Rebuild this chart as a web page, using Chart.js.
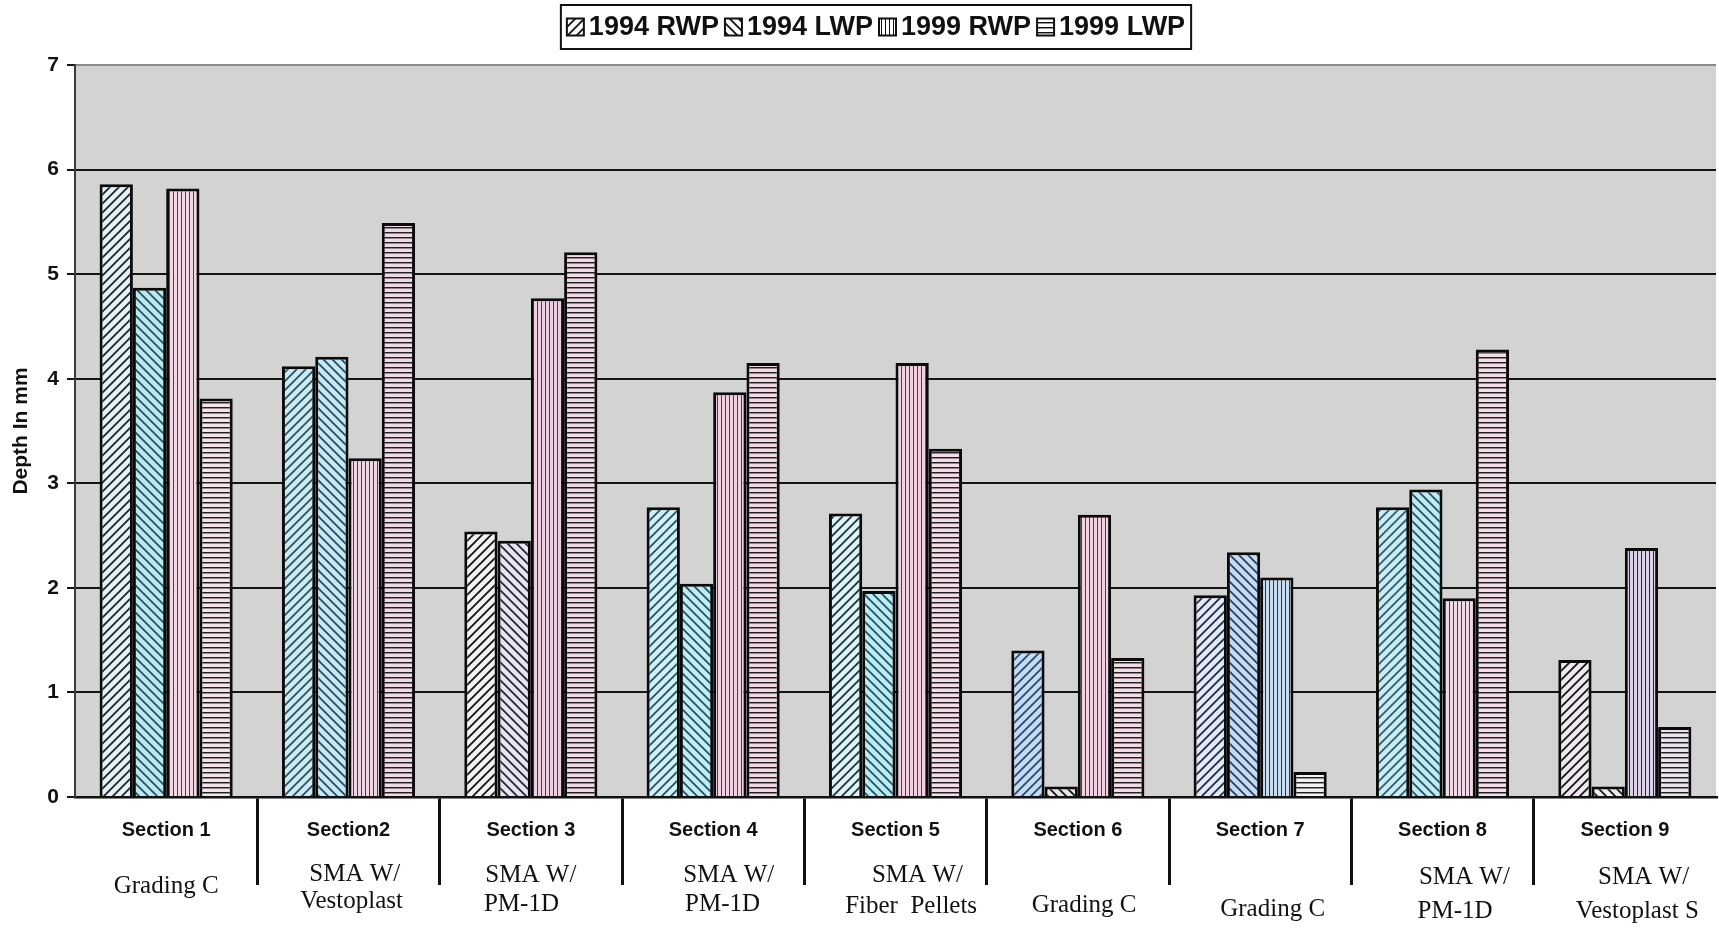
<!DOCTYPE html>
<html>
<head>
<meta charset="utf-8">
<title>Rut depth by section</title>
<script src="https://cdn.jsdelivr.net/npm/chart.js@4.4.1/dist/chart.umd.min.js"></script>
<style>
  html, body { margin: 0; padding: 0; background: #fff; }
  #wrap { width: 1719px; height: 928px; }
</style>
</head>
<body>
<div id="wrap"><canvas id="chart" width="1719" height="928"></canvas></div>
<script>
// Rut depth (mm) per test section, right and left wheel paths, 1994 and 1999 surveys
const sections = ['Section 1', 'Section2', 'Section 3', 'Section 4', 'Section 5',
                  'Section 6', 'Section 7', 'Section 8', 'Section 9'];
const mixes = [
  ['Grading C'],
  ['  SMA W/', ' Vestoplast'],
  ['SMA W/', 'PM-1D   '],
  ['     SMA W/', '   PM-1D'],
  ['       SMA W/', '     Fiber  Pellets'],
  ['', '  Grading C'],
  ['', '    Grading C'],
  ['       SMA W/', '    PM-1D'],
  ['      SMA W/', '    Vestoplast S']
];
const seriesNames = ['1994 RWP', '1994 LWP', '1999 RWP', '1999 LWP'];
const rwp1994 = [5.86, 4.12, 2.54, 2.77, 2.71, 1.40, 1.93, 2.77, 1.31];
const lwp1994 = [4.87, 4.21, 2.45, 2.04, 1.97, 0.10, 2.34, 2.94, 0.10];
const rwp1999 = [5.82, 3.24, 4.77, 3.87, 4.15, 2.70, 2.10, 1.90, 2.38];
const lwp1999 = [3.81, 5.49, 5.21, 4.15, 3.33, 1.33, 0.24, 4.28, 0.67];
const yTicks = [0, 1, 2, 3, 4, 5, 6, 7];

// ---- styling ----
const sans = '"Liberation Sans", Arial, Helvetica, sans-serif';
const serif = '"Liberation Serif", "Times New Roman", serif';
const hatchKinds = ['fwd', 'back', 'vert', 'horiz'];
const barTints = [
  ['#e6f3f5', '#cfe9f0', '#f3f3f5', '#d3f0f3', '#dff3f5', '#c5dcee', '#e2e9f4', '#cdecf1', '#f0e8f0'],
  ['#bde9ee', '#c9e7f0', '#e7e3ef', '#c2ecf1', '#bcebf0', '#e6e6ea', '#c9dcef', '#c3eaf0', '#eeeeee'],
  ['#f2d7e4', '#efd6e5', '#ecd0e2', '#f1d2e2', '#f1d0e1', '#f1d1e2', '#c9dcf0', '#f1dbe8', '#ddd3e8'],
  ['#f5e3ec', '#f0d9e6', '#f1dae7', '#f3d9e6', '#f3dbe7', '#f3dbe7', '#f2f2f2', '#f3dde8', '#ebe4ef']
];
const barInks = [
  ['#1c2430', '#245466', '#141414', '#1f5566', '#1b3442', '#284878', '#1f2c48', '#256074', '#141414'],
  ['#1d5668', '#1f4f66', '#2a2436', '#1d5668', '#1d5668', '#141414', '#27406a', '#1d5668', '#141414'],
  ['#6b2d4d', '#6b2d4d', '#6b2d4d', '#6b2d4d', '#6b2d4d', '#6b2d4d', '#203a5a', '#6b2d4d', '#2a2236'],
  ['#202020', '#202020', '#202020', '#202020', '#202020', '#202020', '#202020', '#202020', '#202020']
];
// line heights of the mix-description labels, one per section
const mixLineHeights = [51, 27, 29, 29, 30.7, 30, 32.3, 33.7, 33.7];

function hatchPattern(kind, tint, ink) {
  const size = kind === 'vert' ? 4 : kind === 'horiz' ? 5 : 9;
  const tile = document.createElement('canvas');
  tile.width = size; tile.height = size;
  const g = tile.getContext('2d');
  g.fillStyle = tint; g.fillRect(0, 0, size, size);
  g.strokeStyle = ink; g.fillStyle = ink;
  if (kind === 'fwd' || kind === 'back') {
    g.lineWidth = 1.8;
    g.beginPath();
    if (kind === 'fwd') {
      g.moveTo(0, size); g.lineTo(size, 0);
      g.moveTo(-2, 2); g.lineTo(2, -2);
      g.moveTo(size - 2, size + 2); g.lineTo(size + 2, size - 2);
    } else {
      g.moveTo(0, 0); g.lineTo(size, size);
      g.moveTo(size - 2, -2); g.lineTo(size + 2, 2);
      g.moveTo(-2, size - 2); g.lineTo(2, size + 2);
    }
    g.stroke();
  } else if (kind === 'vert') {
    g.fillRect(1, 0, 1, size);
  } else {
    g.fillRect(0, 2, size, 1);
    g.globalAlpha = 0.45; g.fillRect(0, 3, size, 1);
  }
  return g.createPattern(tile, 'repeat');
}

const series = [rwp1994, lwp1994, rwp1999, lwp1999];
const datasets = series.map((vals, k) => ({
  label: seriesNames[k],
  data: vals,
  backgroundColor: vals.map((_, i) => hatchPattern(hatchKinds[k], barTints[k][i], barInks[k][i])),
  borderColor: '#0a0a0a',
  borderWidth: 3,
  borderSkipped: 'start'
}));
const legendSwatches = hatchKinds.map(kind => hatchPattern(kind, '#ffffff', '#111111'));

// grey plotting field
const plotField = {
  id: 'plotField',
  beforeDraw(chart) {
    const a = chart.chartArea, ctx = chart.ctx;
    ctx.save();
    ctx.fillStyle = '#d3d3d4';
    ctx.fillRect(a.left, a.top, a.right - a.left, a.bottom - a.top);
    ctx.restore();
  }
};

// boxed legend across the top
const boxedLegend = {
  id: 'boxedLegend',
  afterDraw(chart) {
    const ctx = chart.ctx;
    ctx.save();
    ctx.font = 'bold 27px ' + sans;
    const sw = 17, gapIn = 5, gapOut = 6, pad = 6;
    const widths = chart.data.datasets.map(ds => ctx.measureText(ds.label).width);
    const total = widths.reduce((s, w) => s + sw + gapIn + w, 0) + gapOut * (widths.length - 1) + pad * 2;
    const cx = 876, top = 5, h = 44;
    const left = cx - total / 2;
    ctx.fillStyle = '#fff';
    ctx.fillRect(left, top, total, h);
    ctx.lineWidth = 2; ctx.strokeStyle = '#111';
    ctx.strokeRect(left, top, total, h);
    ctx.textBaseline = 'middle';
    ctx.textAlign = 'left';
    let x = left + pad;
    const mid = top + h / 2;
    chart.data.datasets.forEach((ds, i) => {
      ctx.fillStyle = legendSwatches[i];
      ctx.fillRect(x, mid - sw / 2, sw, sw);
      ctx.lineWidth = 2; ctx.strokeStyle = '#111';
      ctx.strokeRect(x, mid - sw / 2, sw, sw);
      ctx.fillStyle = '#111';
      ctx.fillText(ds.label, x + sw + gapIn, mid + 1);
      x += sw + gapIn + widths[i] + gapOut;
    });
    ctx.restore();
  }
};

const sepColor = c => (c.index === 0 || c.index === undefined) ? 'rgba(0,0,0,0)' : '#111';

new Chart(document.getElementById('chart'), {
  type: 'bar',
  data: { labels: sections, datasets },
  options: {
    responsive: false,
    animation: false,
    devicePixelRatio: 1,
    layout: { padding: { top: 65, right: 3, bottom: 0, left: 0 } },
    datasets: { bar: { categoryPercentage: 0.73, barPercentage: 1.0 } },
    plugins: { legend: { display: false }, tooltip: { enabled: false } },
    scales: {
      x: {
        type: 'category',
        position: 'bottom',
        weight: 0,
        offset: true,
        afterFit: s => { s.height = 44.4; },
        grid: {
          display: true, drawOnChartArea: false, drawTicks: true, offset: true,
          tickLength: 88, lineWidth: 3, tickWidth: 3, color: sepColor, tickColor: sepColor
        },
        border: { display: true, color: '#111', width: 2.5 },
        ticks: {
          autoSkip: false, maxRotation: 0, minRotation: 0, color: '#111',
          font: { family: sans, size: 20, weight: 'bold' }, padding: -67
        }
      },
      mix: {
        type: 'category',
        position: 'bottom',
        weight: 1,
        offset: true,
        labels: mixes,
        afterFit: s => { s.height = 86.6; },
        grid: { display: false, drawTicks: false },
        border: { display: false },
        ticks: {
          autoSkip: false, maxRotation: 0, minRotation: 0, color: '#111', padding: 19.1,
          font: c => ({ family: serif, size: 25,
                        lineHeight: (mixLineHeights[c.index] !== undefined ? mixLineHeights[c.index] : 27) + 'px' })
        }
      },
      y: {
        min: yTicks[0],
        max: yTicks[yTicks.length - 1],
        afterBuildTicks: s => { s.ticks = yTicks.map(v => ({ value: v })); },
        afterFit: s => { s.width = 75; },
        grid: {
          color: c => (c.tick && c.tick.value === yTicks[yTicks.length - 1]) ? '#8a8a8a' : '#151515',
          lineWidth: 2, drawTicks: true, tickLength: 8, tickColor: '#151515', tickWidth: 2
        },
        border: { display: true, color: '#3a3a3a', width: 2 },
        ticks: { color: '#111', font: { family: sans, size: 21, weight: 'bold' }, padding: 8 },
        title: {
          display: true, text: 'Depth In mm', color: '#111',
          font: { family: sans, size: 21, weight: 'bold' }, padding: { top: 9, bottom: 0 }
        }
      }
    }
  },
  plugins: [plotField, boxedLegend]
});
</script>
</body>
</html>
